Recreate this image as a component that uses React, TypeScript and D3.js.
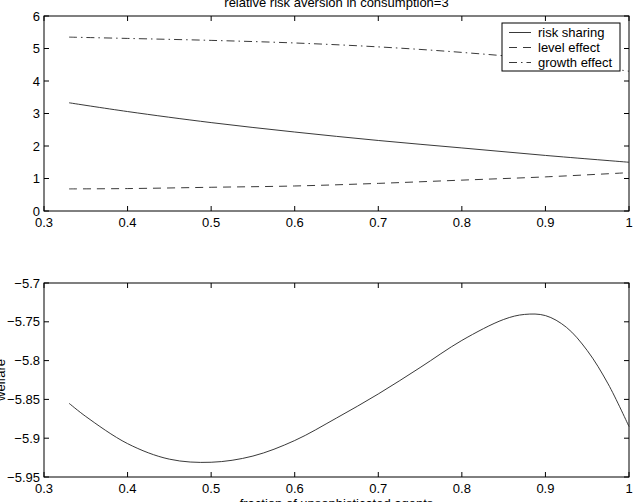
import React from "react";
import * as d3 from "d3";

const xTop = [0.33, 0.4, 0.5, 0.6, 0.7, 0.8, 0.9, 1.0];
const riskSharing = [3.33, 3.06, 2.72, 2.43, 2.17, 1.94, 1.71, 1.5];
const levelEffect = [0.68, 0.69, 0.73, 0.77, 0.85, 0.95, 1.05, 1.18];
const growthEffect = [5.35, 5.31, 5.25, 5.17, 5.05, 4.88, 4.65, 4.3];

const xWelfare = [0.33, 0.35, 0.4, 0.45, 0.5, 0.55, 0.6, 0.65, 0.7, 0.75, 0.8, 0.85, 0.875, 0.9, 0.925, 0.95, 0.975, 1.0];
const welfare = [-5.855, -5.872, -5.907, -5.927, -5.931, -5.923, -5.903, -5.874, -5.843, -5.809, -5.774, -5.747, -5.7405, -5.742, -5.757, -5.787, -5.83, -5.885];

const xTicks = [0.3, 0.4, 0.5, 0.6, 0.7, 0.8, 0.9, 1];
const yTopTicks = [0, 1, 2, 3, 4, 5, 6];
const yBotTicks = [-5.95, -5.9, -5.85, -5.8, -5.75, -5.7];

const seriesNames = ["risk sharing", "level effect", "growth effect"];
const dashes = ["none", "8,6", "8,4,1.5,4"];

const FONT = "'Liberation Sans', Arial, Helvetica, sans-serif";
const FS = 13;
const LEFT = 44;
const RIGHT = 629;

function fmtX(v: number) {
  return v === 1 ? "1" : v.toFixed(1);
}
function fmtMinus(s: string) {
  return s.replace("-", "\u2212");
}

function Axes({ top, bottom, yDomain, yTicks, yFmt }: any) {
  const x = d3.scaleLinear().domain([0.3, 1]).range([LEFT, RIGHT]);
  const y = d3.scaleLinear().domain(yDomain).range([bottom, top]);
  const tl = 5;
  return (
    <g>
      <rect x={LEFT} y={top} width={RIGHT - LEFT} height={bottom - top} fill="none" stroke="#000" strokeWidth={1} />
      {xTicks.map((t) => (
        <g key={"x" + t}>
          <line x1={x(t)} x2={x(t)} y1={bottom} y2={bottom - tl} stroke="#000" />
          <line x1={x(t)} x2={x(t)} y1={top} y2={top + tl} stroke="#000" />
          <text x={x(t)} y={bottom + 16} textAnchor="middle" fontSize={FS} fontFamily={FONT} fill="#000">
            {fmtX(t)}
          </text>
        </g>
      ))}
      {yTicks.map((t: number) => (
        <g key={"y" + t}>
          <line x1={LEFT} x2={LEFT + tl} y1={y(t)} y2={y(t)} stroke="#000" />
          <line x1={RIGHT} x2={RIGHT - tl} y1={y(t)} y2={y(t)} stroke="#000" />
          <text x={40} y={y(t) + 4.5} textAnchor="end" fontSize={FS} fontFamily={FONT} fill="#000">
            {yFmt(t)}
          </text>
        </g>
      ))}
    </g>
  );
}

export default function App() {
  const topT = 16, topB = 211;
  const botT = 283, botB = 477;
  const x = d3.scaleLinear().domain([0.3, 1]).range([LEFT, RIGHT]);
  const yTop = d3.scaleLinear().domain([0, 6]).range([topB, topT]);
  const yBot = d3.scaleLinear().domain([-5.95, -5.7]).range([botB, botT]);

  const lineTop = (vals: number[]) =>
    d3
      .line<number>()
      .x((_, i) => x(xTop[i]))
      .y((d) => yTop(d))
      .curve(d3.curveCatmullRom.alpha(0.5))(vals) as string;

  const lineBot = d3
    .line<number>()
    .x((_, i) => x(xWelfare[i]))
    .y((d) => yBot(d))
    .curve(d3.curveCatmullRom.alpha(0.5))(welfare) as string;

  const seriesVals = [riskSharing, levelEffect, growthEffect];
  const lx = 502, ly = 23, lw = 118, lh = 48;

  return (
    <svg width={633} height={502} style={{ position: "absolute", left: 0, top: 0, background: "#fff" }}>
      <rect x={0} y={0} width={633} height={502} fill="#fff" />
      <text x={(LEFT + RIGHT) / 2} y={7} textAnchor="middle" fontSize={FS} fontFamily={FONT} fill="#000">
        relative risk aversion in consumption=3
      </text>
      <Axes top={topT} bottom={topB} yDomain={[0, 6]} yTicks={yTopTicks} yFmt={(t: number) => String(t)} />
      {seriesVals.map((vals, i) => (
        <path key={i} d={lineTop(vals)} fill="none" stroke="#222" strokeWidth={0.9} strokeDasharray={dashes[i]} />
      ))}
      <g>
        <rect x={lx} y={ly} width={lw} height={lh} fill="#fff" stroke="#000" strokeWidth={1} />
        {seriesNames.map((n, i) => (
          <g key={n}>
            <line x1={lx + 7} x2={lx + 29} y1={ly + 9.5 + i * 15} y2={ly + 9.5 + i * 15} stroke="#222" strokeWidth={0.9} strokeDasharray={dashes[i]} />
            <text x={lx + 36} y={ly + 14 + i * 15} fontSize={FS} fontFamily={FONT} fill="#000">
              {n}
            </text>
          </g>
        ))}
      </g>
      <Axes top={botT} bottom={botB} yDomain={[-5.95, -5.7]} yTicks={yBotTicks} yFmt={(t: number) => fmtMinus(String(t))} />
      <path d={lineBot} fill="none" stroke="#222" strokeWidth={0.9} />
      <text x={(LEFT + RIGHT) / 2} y={508} textAnchor="middle" fontSize={FS} fontFamily={FONT} fill="#000">
        fraction of unsophisticated agents
      </text>
      <text transform={`translate(5,380) rotate(-90)`} textAnchor="middle" fontSize={FS} fontFamily={FONT} fill="#000">
        welfare
      </text>
    </svg>
  );
}
